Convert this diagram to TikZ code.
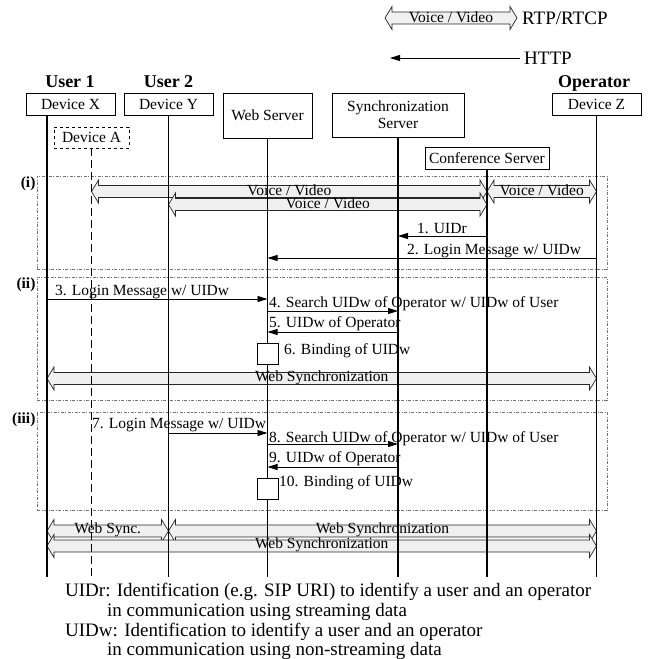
\documentclass[tikz,border=0pt]{standalone}
\usepackage{fontspec}
\setmainfont{Liberation Serif}
\usetikzlibrary{arrows.meta, calc}

\newcommand{\lblfont}{\fontsize{15.5}{17}\selectfont}
\newcommand{\hdrfont}{\fontsize{18}{20}\selectfont\bfseries}
\newcommand{\legfont}{\fontsize{19}{21}\selectfont}
\newcommand{\footfont}{\fontsize{19}{20}\selectfont}

% wide two-headed arrow for streaming data: from, to, text, name
\newcommand{\streamarrow}[4]{%
  \draw[bigarrow] let \p1=(#1), \p2=(#2) in
    (\x1,\y1) -- (\x1+7pt,\y1+11.5pt) -- (\x1+7pt,\y1+6pt) -- (\x2-7pt,\y2+6pt)
    -- (\x2-7pt,\y2+11.5pt) -- (\x2,\y2) -- (\x2-7pt,\y2-11.5pt) -- (\x2-7pt,\y2-6pt)
    -- (\x1+7pt,\y1-6pt) -- (\x1+7pt,\y1-11.5pt) -- cycle;
  \path let \p1=(#1), \p2=(#2) in
    node[streamlbl] (#4) at ({(\x1+\x2)/2},\y1+1pt) {#3};}

\tikzset{
  devbox/.style={draw, line width=0.8pt, fill=white, font=\lblfont, inner sep=0pt, minimum height=22},
  hdr/.style={font=\hdrfont, inner sep=0pt},
  life/.style={line width=1.1pt},
  http/.style={-{Triangle[length=10pt,width=6pt]}, line width=0.9pt},
  bigarrow/.style={draw=black!85, fill=black!6, line width=0.7pt},
  streamlbl/.style={font=\lblfont, inner sep=0pt},
  grp/.style={draw=black!55, dash pattern=on 3pt off 1.5pt on 1pt off 1.5pt, line width=0.7pt, minimum width=570, inner sep=0pt},
  grptag/.style={font=\lblfont\bfseries, inner sep=1pt, anchor=north east},
  actbox/.style={draw, fill=white, minimum size=21, inner sep=0pt, line width=0.8pt},
  msg/.style={font=\lblfont, inner sep=0pt, anchor=base west},
  foot/.style={font=\footfont, inner sep=0pt, anchor=base west},
}

\begin{document}
\begin{tikzpicture}[x=1pt, y=-1pt]
    \useasboundingbox (0,0) rectangle (649,659);

    % --- Legend ---
    \coordinate (lgA) at (385,18);
    \coordinate (lgB) at (517,18);
    \coordinate (lgC) at (520,58);
    \coordinate (lgD) at (390,58);
    \streamarrow{lgA}{lgB}{Voice / Video}{lgTxt}
    \node[font=\legfont, inner sep=0pt, anchor=west] (rtp) at ([xshift=5]lgB) {RTP/RTCP};
    \draw[http] (lgC) -- (lgD);
    \node[font=\legfont, inner sep=0pt, anchor=west] (httpTxt) at ([xshift=4]lgC) {HTTP};

    % --- Entities ---
    \node[hdr] (user1) at (70,82) {User 1};
    \node[hdr] (user2) at (168.5,82) {User 2};
    \node[hdr] (oper) at (594,83) {Operator};

    \node[devbox, minimum width=89] (devX) at (70.5,104) {Device X};
    \node[devbox, minimum width=89] (devY) at (168.5,104) {Device Y};
    \node[devbox, minimum width=89, minimum height=45] (web) at (267.5,115.5) {Web Server};
    \node[devbox, minimum width=132, minimum height=44, align=center] (sync) at (398,115) {Synchronization\\Server};
    \node[devbox, minimum width=89] (devZ) at (596.5,104) {Device Z};
    \node[devbox, dashed, minimum width=75, minimum height=21] (devA) at (91.5,137.5) {Device A};
    \node[devbox, minimum width=124] (conf) at (487,158) {Conference Server};

    % lifeline ends and message rows
    \coordinate (lx) at (47,115);
    \coordinate (bot) at (0,577);
    \coordinate (s1) at (0,191.5);
    \coordinate (s2) at (0,204.5);
    \coordinate (s3) at (0,378.5);
    \coordinate (s4) at (0,531);
    \coordinate (s5) at (0,546);
    \coordinate (m1) at (0,236);
    \coordinate (m2) at (0,258);
    \coordinate (m3) at (0,299);
    \coordinate (m4) at (0,311);
    \coordinate (m5) at (0,332);
    \coordinate (m7) at (0,433);
    \coordinate (m8) at (0,444);
    \coordinate (m9) at (0,467);

    % --- Phases ---
    \node[grp, minimum height=93] (grpI) at (322,222.5) {};
    \node[grptag] (tagI) at (grpI.north west) {(i)};
    \node[grp, minimum height=123] (grpII) at (322,338.5) {};
    \node[grptag] (tagII) at (grpII.north west) {(ii)};
    \node[grp, minimum height=98] (grpIII) at (322,461) {};
    \node[grptag] (tagIII) at (grpIII.north west) {(iii)};

    % --- Streaming / synchronization arrows ---
    \streamarrow{devA.south |- s1}{conf.south |- s1}{Voice / Video}{vv1}
    \streamarrow{devY.south |- s2}{conf.south |- s2}{Voice / Video}{vv2}
    \streamarrow{conf.south |- s1}{devZ.south |- s1}{Voice / Video}{vv3}
    \streamarrow{lx |- s3}{devZ.south |- s3}{Web Synchronization}{ws1}
    \streamarrow{lx |- s4}{devY.south |- s4}{Web Sync.}{ws2}
    \streamarrow{devY.south |- s4}{devZ.south |- s4}{Web Synchronization}{ws3}
    \streamarrow{lx |- s5}{devZ.south |- s5}{Web Synchronization}{ws4}

    % --- Lifelines ---
    \draw[life] (lx) -- (lx |- bot);
    \draw[life, dash pattern=on 8pt off 4pt] (devA.south) -- (devA.south |- bot);
    \draw[life] (devY.south) -- (devY.south |- bot);
    \draw[life] (web.south) -- (web.south |- bot);
    \draw[life] (sync.south) -- (sync.south |- bot);
    \draw[life] (conf.south) -- (conf.south |- bot);
    \draw[life] (devZ.south) -- (devZ.south |- bot);

    % --- HTTP messages ---
    \draw[http] (conf.south |- m1) -- (sync.south |- m1);
    \node[msg] (t1) at (417,233) {1. UIDr};
    \draw[http] (devZ.south |- m2) -- (web.south |- m2);
    \node[msg] (t2) at (407,254) {2. Login Message w/ UIDw};

    \draw[http] (lx |- m3) -- (web.south |- m3);
    \node[msg] (t3) at (55,295.5) {3. Login Message w/ UIDw};
    \draw[http] (web.south |- m4) -- (sync.south |- m4);
    \node[msg] (t4) at (269,307) {4. Search UIDw of Operator w/ UIDw of User};
    \draw[http] (sync.south |- m5) -- (web.south |- m5);
    \node[msg] (t5) at (269,327) {5. UIDw of Operator};
    \node[actbox] (bind1) at (267.5,353.5) {};
    \node[msg] (t6) at (284,354) {6. Binding of UIDw};

    \draw[http] (devY.south |- m7) -- (web.south |- m7);
    \node[msg] (t7) at (92,428) {7. Login Message w/ UIDw};
    \draw[http] (web.south |- m8) -- (sync.south |- m8);
    \node[msg] (t8) at (269,442) {8. Search UIDw of Operator w/ UIDw of User};
    \draw[http] (sync.south |- m9) -- (web.south |- m9);
    \node[msg] (t9) at (269,462) {9. UIDw of Operator};
    \node[actbox] (bind2) at (267.5,488.5) {};
    \node[msg] (t10) at (279,486) {10. Binding of UIDw};

    % --- Notes ---
    \node[foot] (noteR) at (65,596) {UIDr: Identification (e.g. SIP URI) to identify a user and an operator};
    \node[foot] (noteR2) at (107,616) {in communication using streaming data};
    \node[foot] (noteW) at (65,636) {UIDw: Identification to identify a user and an operator};
    \node[foot] (noteW2) at (107,655) {in communication using non-streaming data};

\end{tikzpicture}
\end{document}
